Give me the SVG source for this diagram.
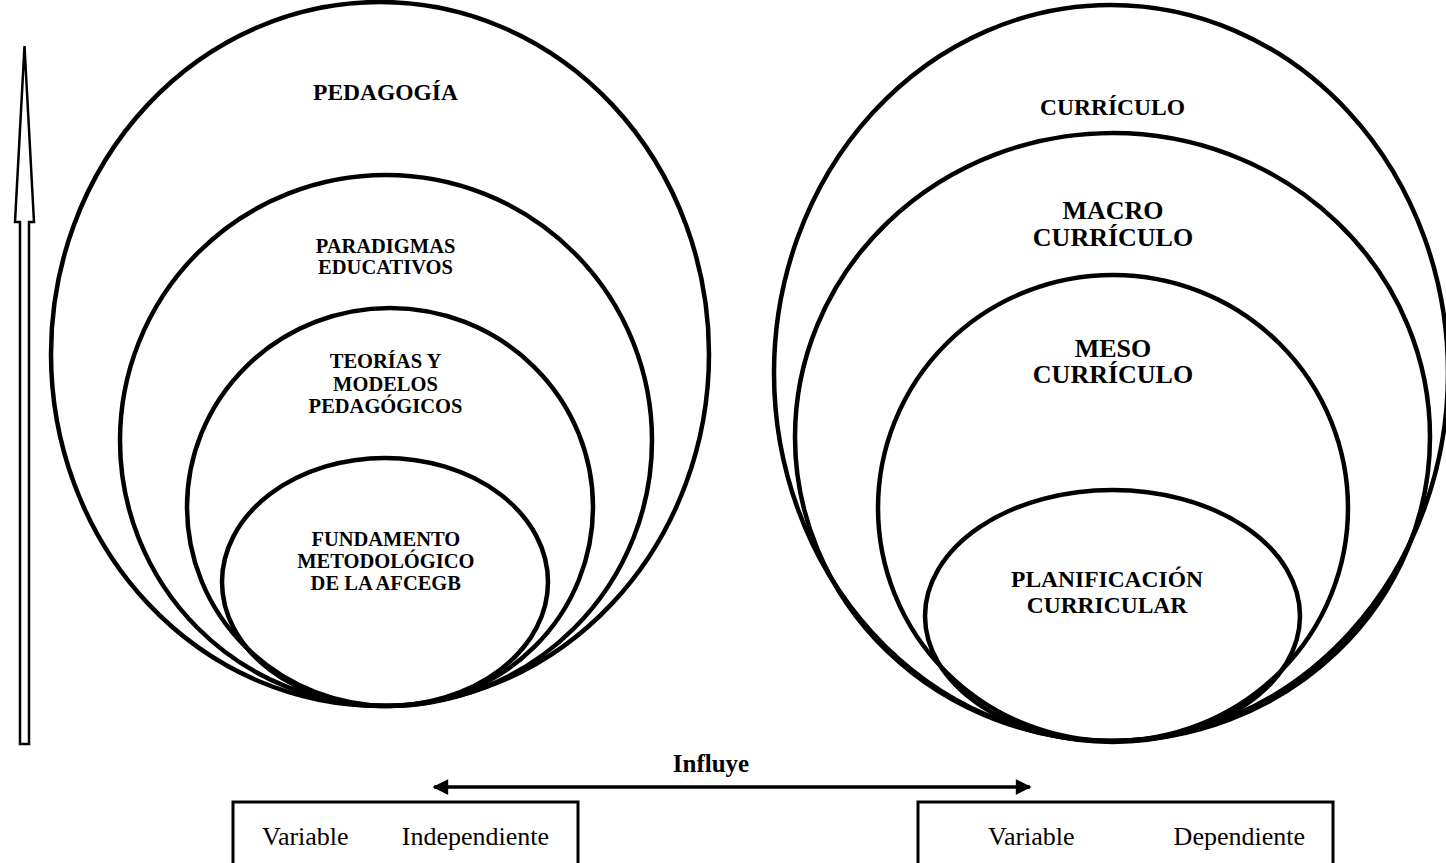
<svg xmlns="http://www.w3.org/2000/svg" width="1446" height="863" viewBox="0 0 1446 863">
<defs>
<style>
.c{fill:none;stroke:#000;stroke-width:4.5}
.t{font-family:"Liberation Serif","Times New Roman",serif;font-weight:bold;fill:#000;text-anchor:middle}
.s{font-size:20.5px}
.m{font-size:23.5px}
.l{font-size:26px}
.r{font-family:"Liberation Serif","Times New Roman",serif;font-size:26px;fill:#000}
.box{fill:#fff;stroke:#000;stroke-width:3}
</style>
<marker id="ah" viewBox="0 0 10 10" refX="9" refY="5" markerWidth="5.5" markerHeight="4.5" orient="auto-start-reverse" markerUnits="strokeWidth">
<path d="M0,0 L10,5 L0,10 Z" fill="#000"/>
</marker>
</defs>
<rect width="1446" height="863" fill="#fff"/>

<g id="pedagogia">
<ellipse class="c" cx="380" cy="354" rx="329" ry="352"/>
<text class="t m" x="385.5" y="100">PEDAGOGÍA</text>
</g>
<g id="paradigmas">
<ellipse class="c" cx="386" cy="440.5" rx="266" ry="265.5"/>
<text class="t s" x="385.5" y="252.5">PARADIGMAS</text>
<text class="t s" x="385.5" y="274">EDUCATIVOS</text>
</g>
<g id="teorias">
<ellipse class="c" cx="390" cy="507" rx="203" ry="199"/>
<text class="t s" x="385.5" y="368">TEORÍAS Y</text>
<text class="t s" x="385.5" y="391">MODELOS</text>
<text class="t s" x="385.5" y="413">PEDAGÓGICOS</text>
</g>
<g id="fundamento">
<ellipse class="c" cx="385" cy="582" rx="163" ry="124"/>
<text class="t s" x="385.8" y="546">FUNDAMENTO</text>
<text class="t s" x="385.8" y="567.5">METODOLÓGICO</text>
<text class="t s" x="385.8" y="589.5">DE LA AFCEGB</text>
</g>

<g id="curriculo">
<ellipse class="c" cx="1111" cy="373" rx="337" ry="368"/>
<text class="t m" x="1112.5" y="115">CURRÍCULO</text>
</g>
<g id="macro">
<ellipse class="c" cx="1112.5" cy="437" rx="317.5" ry="304"/>
<text class="t l" x="1113" y="219.3">MACRO</text>
<text class="t l" x="1113" y="246">CURRÍCULO</text>
</g>
<g id="meso">
<ellipse class="c" cx="1113" cy="508" rx="235" ry="233"/>
<text class="t l" x="1113" y="356.7">MESO</text>
<text class="t l" x="1113" y="383.3">CURRÍCULO</text>
</g>
<g id="planificacion">
<ellipse class="c" cx="1112.5" cy="616" rx="187.5" ry="126"/>
<text class="t m" x="1107" y="587.3">PLANIFICACIÓN</text>
<text class="t m" x="1107" y="613.3">CURRICULAR</text>
</g>

<g id="arrow-up">
<polygon points="20,744 20,222 15,222 24.5,46 34,222 29,222 29,744" fill="#fff" stroke="#000" stroke-width="2.5" stroke-linejoin="miter"/>
</g>

<g id="connectors">
<line x1="434" y1="787" x2="1030" y2="787" stroke="#000" stroke-width="3.5" marker-start="url(#ah)" marker-end="url(#ah)"/>
<text class="t" x="711" y="772" style="font-size:25px">Influye</text>
</g>

<g id="var-independiente">
<rect class="box" x="233" y="802" width="345" height="70"/>
<text class="r" x="262" y="845">Variable</text>
<text class="r" x="549" y="845" text-anchor="end">Independiente</text>
</g>
<g id="var-dependiente">
<rect class="box" x="918" y="802" width="415" height="70"/>
<text class="r" x="988" y="845">Variable</text>
<text class="r" x="1305" y="845" text-anchor="end">Dependiente</text>
</g>
</svg>
